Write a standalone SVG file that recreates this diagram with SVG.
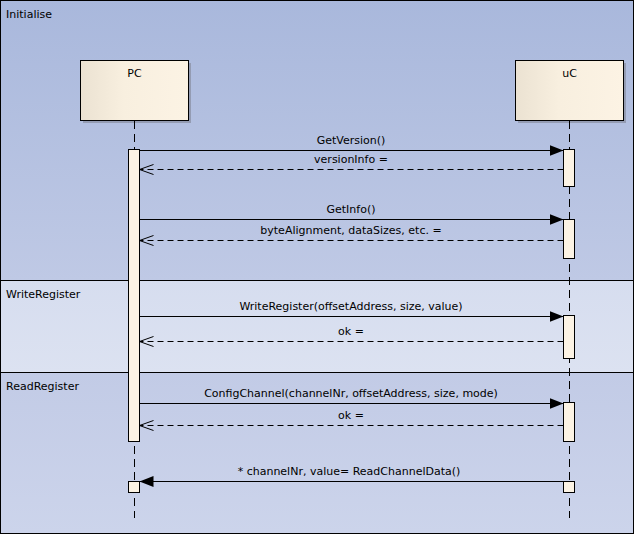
<svg xmlns="http://www.w3.org/2000/svg" width="635" height="535" viewBox="0 0 635 535">
<defs>
<linearGradient id="gInit" x1="0" y1="0" x2="0" y2="1"><stop offset="0" stop-color="#a9b8dc"/><stop offset="1" stop-color="#bfc9e5"/></linearGradient>
<linearGradient id="gWrite" x1="0" y1="0" x2="0" y2="1"><stop offset="0" stop-color="#d6ddef"/><stop offset="1" stop-color="#dce2f1"/></linearGradient>
<linearGradient id="gRead" x1="0" y1="0" x2="0" y2="1"><stop offset="0" stop-color="#c2cbe6"/><stop offset="1" stop-color="#ccd4eb"/></linearGradient>
<linearGradient id="gBox" x1="0" y1="0" x2="1" y2="0"><stop offset="0" stop-color="#ebe2d2"/><stop offset="0.4" stop-color="#f8efdf"/><stop offset="1" stop-color="#fcf3e4"/></linearGradient>
<marker id="filled" markerWidth="15" markerHeight="11" refX="14" refY="5.5" orient="auto" markerUnits="userSpaceOnUse"><path d="M0,0 L14,5.5 L0,11 Z" fill="#000"/></marker>
<marker id="open" markerWidth="16" markerHeight="12" refX="15" refY="6" orient="auto" markerUnits="userSpaceOnUse"><path d="M1,1 L15,6 L1,11" fill="none" stroke="#000" stroke-width="1"/></marker>
</defs>
<style>
text{font-family:"DejaVu Sans","Liberation Sans",sans-serif;font-size:11px;fill:#000}
.lbl{text-anchor:middle}
.life{stroke:#000;stroke-width:1;stroke-dasharray:8,5}
.act{fill:#fcf3e4;stroke:#000;stroke-width:1}
.head{fill:url(#gBox);stroke:#000;stroke-width:1}
.shadow{fill:#949cb3}
.sync{stroke:#000;stroke-width:1;fill:none;marker-end:url(#filled)}
.ret{stroke:#000;stroke-width:1;fill:none;stroke-dasharray:6,4;marker-end:url(#open)}
.frag{stroke:#000;stroke-width:1}
</style>
<g id="fragments">
<rect x="0.5" y="0.5" width="633" height="280" fill="url(#gInit)" class="frag"/>
<rect x="0.5" y="280.5" width="633" height="92" fill="url(#gWrite)" class="frag"/>
<rect x="0.5" y="372.5" width="633" height="161" fill="url(#gRead)" class="frag"/>
<text x="6" y="18">Initialise</text>
<text x="6" y="298">WriteRegister</text>
<text x="6" y="390">ReadRegister</text>
</g>
<g id="PC">
<rect x="83" y="63" width="108" height="60" class="shadow"/>
<rect x="80.5" y="60.5" width="108" height="60" class="head"/>
<text x="134.5" y="77" class="lbl">PC</text>
<line x1="134.5" y1="121" x2="134.5" y2="518" class="life"/>
<rect x="128.5" y="149.5" width="11" height="292" class="act"/>
<rect x="128.5" y="481.5" width="11" height="11" class="act"/>
</g>
<g id="uC">
<rect x="518" y="63" width="108" height="60" class="shadow"/>
<rect x="515.5" y="60.5" width="108" height="60" class="head"/>
<text x="569.5" y="77" class="lbl">uC</text>
<line x1="569.5" y1="121" x2="569.5" y2="518" class="life"/>
<rect x="563.5" y="149.5" width="11" height="37" class="act"/>
<rect x="563.5" y="219.5" width="11" height="39" class="act"/>
<rect x="563.5" y="315.5" width="11" height="43" class="act"/>
<rect x="563.5" y="402.5" width="11" height="39" class="act"/>
<rect x="563.5" y="481.5" width="11" height="11" class="act"/>
</g>
<g id="connectors">
<line x1="139.5" y1="150.5" x2="563.5" y2="150.5" class="sync"/>
<text x="351" y="144" class="lbl">GetVersion()</text>
<line x1="563.5" y1="169.5" x2="139.5" y2="169.5" class="ret"/>
<text x="351" y="163" class="lbl">versionInfo =</text>
<line x1="139.5" y1="219.5" x2="563.5" y2="219.5" class="sync"/>
<text x="351" y="213" class="lbl">GetInfo()</text>
<line x1="563.5" y1="240.5" x2="139.5" y2="240.5" class="ret"/>
<text x="351" y="234" class="lbl">byteAlignment, dataSizes, etc. =</text>
<line x1="139.5" y1="316.5" x2="563.5" y2="316.5" class="sync"/>
<text x="351" y="310" class="lbl">WriteRegister(offsetAddress, size, value)</text>
<line x1="563.5" y1="341.5" x2="139.5" y2="341.5" class="ret"/>
<text x="351" y="335" class="lbl">ok =</text>
<line x1="139.5" y1="403.5" x2="563.5" y2="403.5" class="sync"/>
<text x="351" y="397" class="lbl">ConfigChannel(channelNr, offsetAddress, size, mode)</text>
<line x1="563.5" y1="425.5" x2="139.5" y2="425.5" class="ret"/>
<text x="351" y="419" class="lbl">ok =</text>
<line x1="563.5" y1="481.5" x2="139.5" y2="481.5" class="sync"/>
<text x="349" y="475" class="lbl">* channelNr, value= ReadChannelData()</text>
</g>
</svg>
